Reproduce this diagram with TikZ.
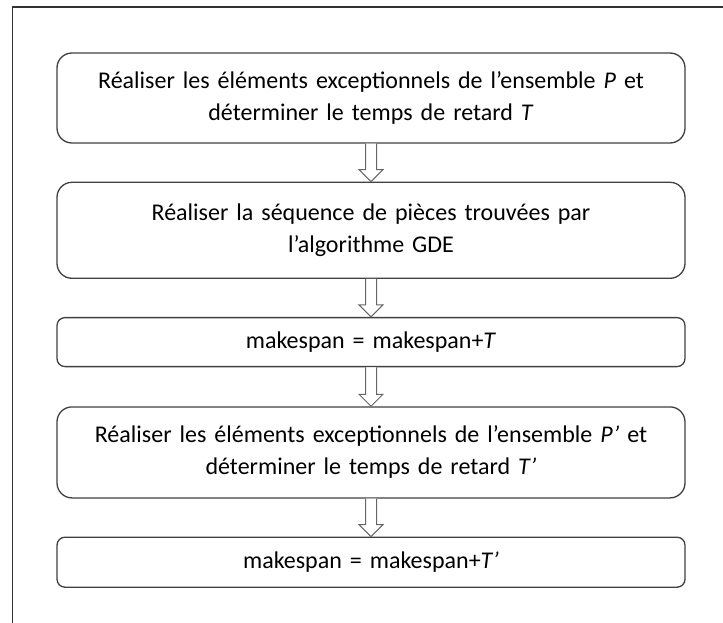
\documentclass[tikz,border=0pt]{standalone}
\usepackage{fontspec}
\setmainfont{Carlito}
\usepackage{tikz}
\usetikzlibrary{calc}
\usetikzlibrary{positioning}
\tikzstyle{etape} = [draw=black!75, line width=1.3pt, fill=white, rectangle,
	minimum width=628pt, text width=610pt, align=center, inner sep=0pt,
	font=\fontsize{24}{32}\selectfont]
\tikzstyle{fleche} = [draw=black!60, line width=1pt, fill=white, to path={
	let \p1 = (\tikztostart), \p2 = (\tikztotarget) in
	(\x1-5.5pt,\y1) -- (\x1-5.5pt,\y2+12pt) -- (\x1-12pt,\y2+12pt) -- (\x1,\y2)
	-- (\x1+12pt,\y2+12pt) -- (\x1+5.5pt,\y2+12pt) -- (\x1+5.5pt,\y1)}]

\begin{document}
\begin{tikzpicture}[x=1pt, y=1pt, node distance=38pt]
\useasboundingbox (0,0) rectangle (723,-623);
\draw [black!80, line width=1.4pt] (723,-7) -- (12.5,-7) -- (12.5,-623);

\node [etape, minimum height=90pt, rounded corners=15pt] (ensP) at (371,-98)
	{Réaliser les éléments exceptionnels de l’ensemble \emph{P} et\\
	déterminer le temps de retard \emph{T}};
\node [etape, minimum height=96pt, rounded corners=15pt, below=of ensP] (sequence)
	{Réaliser la séquence de pièces trouvées par\\
	l’algorithme GDE};
\node [etape, minimum height=49pt, rounded corners=8pt, below=of sequence] (mkT)
	{makespan = makespan+\emph{T}};
\node [etape, minimum height=91pt, rounded corners=15pt, below=39pt of mkT] (ensPp)
	{Réaliser les éléments exceptionnels de l’ensemble \emph{P’} et\\
	déterminer le temps de retard \emph{T’}};
\node [etape, minimum height=50pt, rounded corners=8pt, below=of ensPp] (mkTp)
	{makespan = makespan+\emph{T’}};

\draw [fleche] (ensP.south) to (sequence.north);
\draw [fleche] (sequence.south) to (mkT.north);
\draw [fleche] (mkT.south) to (ensPp.north);
\draw [fleche] (ensPp.south) to (mkTp.north);
\end{tikzpicture}
\end{document}
